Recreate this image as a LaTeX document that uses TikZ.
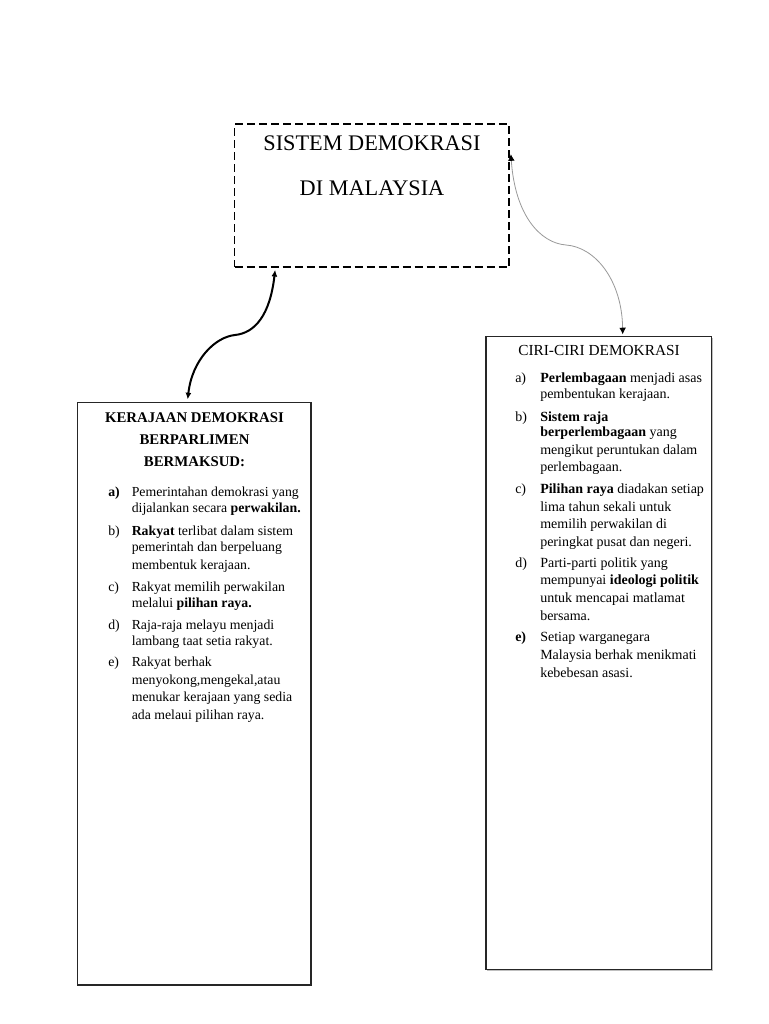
\documentclass[tikz,border=0pt]{standalone}
\usepackage{fontspec}
\setmainfont{Liberation Serif}
\usetikzlibrary{arrows.meta,calc,shadows}
\begin{document}
\begin{tikzpicture}[x=0.75pt,y=-0.75pt,
  box/.style={draw=black!85, line width=0.9pt, fill=white, inner sep=0pt,
    drop shadow={shadow xshift=0.9pt, shadow yshift=-0.9pt, fill=black!25, opacity=1}},
  dbox/.style={draw=black, line width=1.3pt, dash pattern=on 6pt off 3pt, inner sep=0pt},
  bodyL/.style={anchor=base west, inner sep=0pt, font=\fontsize{10.35}{12}\selectfont},
  bodyR/.style={anchor=base west, inner sep=0pt, font=\fontsize{10.5}{12}\selectfont},
  titleL/.style={anchor=base, inner sep=0pt, font=\fontsize{11.1}{13}\selectfont\bfseries},
  titleR/.style={anchor=base, inner sep=0pt, font=\fontsize{11.5}{13}\selectfont},
  titleT/.style={anchor=base, inner sep=0pt, font=\fontsize{16.7}{20}\selectfont},
  blackarrow/.style={line width=1.5pt, {Latex[length=5pt,width=4.5pt]}-{Latex[length=5pt,width=4.5pt]}},
  grayarrow/.style={draw=black!40, line width=0.6pt, {Latex[color=black,length=5pt,width=5pt]}-{Latex[color=black,length=5pt,width=5pt]}}
]
\useasboundingbox (0,0) rectangle (768,1024);
\fill[white] (0,0) rectangle (768,1024);

% boxes
\node[dbox, minimum width={274.5*0.75pt}, minimum height={143*0.75pt}] (top) at (371.75,195.5) {};
\node[box, minimum width={233.3*0.75pt}, minimum height={582.7*0.75pt}] (left) at (194.35,693.65) {};
\node[box, minimum width={225.5*0.75pt}, minimum height={632.6*0.75pt}] (right) at (598.75,653) {};

% top box text
\node[titleT] (t1) at (372,150) {SISTEM DEMOKRASI};
\node[titleT] (t2) at (372,195) {DI MALAYSIA};

% left box
\node[titleL] (lt1) at (194.5,422) {KERAJAAN DEMOKRASI};
\node[titleL] (lt2) at (194.5,444) {BERPARLIMEN};
\node[titleL] (lt3) at (194.5,466) {BERMAKSUD:};

\node[bodyL] (la) at (108,496) {\textbf{a)}};
\node[bodyL] (lb) at (108,535) {b)};
\node[bodyL] (lc) at (108,591) {c)};
\node[bodyL] (ld) at (108,629) {d)};
\node[bodyL] (le) at (108,666) {e)};

\foreach \y/\t [count=\i] in {
  496/{Pemerintahan demokrasi yang},
  512/{dijalankan secara \textbf{perwakilan.}},
  535/{\textbf{Rakyat} terlibat dalam sistem},
  551/{pemerintah dan berpeluang},
  569/{membentuk kerajaan.},
  591/{Rakyat memilih perwakilan},
  607/{melalui \textbf{pilihan raya.}},
  629/{Raja-raja melayu menjadi},
  645/{lambang taat setia rakyat.},
  666/{Rakyat berhak},
  684/{menyokong,mengekal,atau},
  701/{menukar kerajaan yang sedia},
  719/{ada melaui pilihan raya.}}
  \node[bodyL] (L\i) at (131.5,\y) {\t};

% right box
\node[titleR] (rt) at (599,355) {CIRI-CIRI DEMOKRASI};

\node[bodyR] (ra) at (515,382) {a)};
\node[bodyR] (rb) at (515,421) {b)};
\node[bodyR] (rc) at (515,493) {c)};
\node[bodyR] (rd) at (515,567) {d)};
\node[bodyR] (re) at (515,641) {\textbf{e)}};

\foreach \y/\t [count=\i] in {
  382/{\textbf{Perlembagaan} menjadi asas},
  398/{pembentukan kerajaan.},
  421/{\textbf{Sistem raja}},
  436/{\textbf{berperlembagaan} yang},
  454/{mengikut peruntukan dalam},
  471/{perlembagaan.},
  493/{\textbf{Pilihan raya} diadakan setiap},
  511/{lima tahun sekali untuk},
  528/{memilih perwakilan di},
  546/{peringkat pusat dan negeri.},
  567/{Parti-parti politik yang},
  584/{mempunyai \textbf{ideologi politik}},
  602/{untuk mencapai matlamat},
  620/{bersama.},
  641/{Setiap warganegara},
  659/{Malaysia berhak menikmati},
  677/{kebebesan asasi.}}
  \node[bodyR] (R\i) at (540,\y) {\t};

% connectors
\coordinate (a1) at ($(top.south west)+(41.5,2)$);
\coordinate (a2) at ($(left.north west)+(110.6,-2.3)$);
\coordinate (m1) at (235,335);
\draw[blackarrow] (a1) .. controls (270,315) and (255,333) .. (m1)
  .. controls (215,337) and (192,360) .. (a2);

\coordinate (b1) at ($(top.north east)+(1,31)$);
\coordinate (b2) at ($(right.north west)+(137.3,-1.7)$);
\coordinate (m2) at (566,245);
\draw[grayarrow] (b1) .. controls (515,215) and (540,243) .. (m2)
  .. controls (595,247) and (622,280) .. (b2);
\end{tikzpicture}
\end{document}
